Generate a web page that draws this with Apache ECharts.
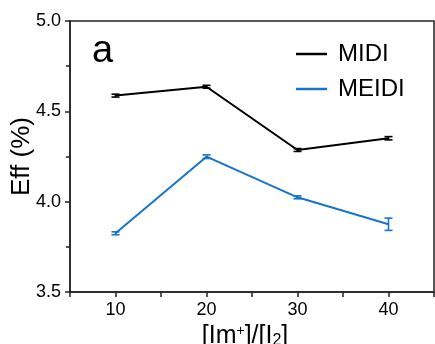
<!DOCTYPE html>
<html><head><meta charset="utf-8">
<script src="https://cdn.jsdelivr.net/npm/echarts@6/dist/echarts.min.js"></script>
<style>html,body{margin:0;padding:0;background:#fff}#c{width:435px;height:344px}</style>
</head><body><div id="c"></div>
<script>
var ratios = [10, 20, 30, 40];
var midi = [4.587, 4.636, 4.286, 4.351];
var midiErr = [0.008, 0.008, 0.008, 0.009];
var meidi = [3.825, 4.249, 4.024, 3.875];
var meidiErr = [0.008, 0.01, 0.008, 0.034];
var yTicks = [3.5, 4.0, 4.5, 5.0];
var xTicks = [10, 20, 30, 40];

var FONT = 'Liberation Sans, Arial, sans-serif';
var BLACK = '#000000', BLUE = '#1874c8';

function lineData(vals){ return ratios.map(function(x,i){return [x, vals[i]];}); }
function errData(vals, errs){ return ratios.map(function(x,i){return [x, vals[i]-errs[i], vals[i]+errs[i]];}); }
function errRender(color){
  return function(params, api){
    var lo = api.coord([api.value(0), api.value(1)]);
    var hi = api.coord([api.value(0), api.value(2)]);
    var w = 4;
    var st = {stroke: color, lineWidth: 1.6};
    return {type:'group', children:[
      {type:'line', shape:{x1:lo[0],y1:lo[1],x2:hi[0],y2:hi[1]}, style:st},
      {type:'line', shape:{x1:lo[0]-w,y1:lo[1],x2:lo[0]+w,y2:lo[1]}, style:st},
      {type:'line', shape:{x1:hi[0]-w,y1:hi[1],x2:hi[0]+w,y2:hi[1]}, style:st}
    ]};
  };
}

var chart = echarts.init(document.getElementById('c'), null, {renderer:'canvas'});
chart.setOption({
  animation:false,
  backgroundColor:'#fff',
  textStyle:{fontFamily:FONT},
  grid:{left:70, right:1, top:21, bottom:52, containLabel:false, outerBoundsMode:'none',
        show:true, borderColor:'#222', borderWidth:1.5, backgroundColor:'transparent'},
  legend:{
    orient:'vertical', left:291, top:37, itemWidth:31, itemHeight:2.5, itemGap:11,
    data:[{name:'MIDI', icon:'rect'}, {name:'MEIDI', icon:'rect'}],
    textStyle:{fontFamily:FONT, fontSize:24, color:'#000', lineHeight:24, padding:[0,0,0,6]}
  },
  xAxis:{
    type:'value', min:5, max:45, interval:5,
    name:'[Im{sup|+}]/[I{sub|2}]', nameLocation:'middle', nameGap:32, nameMoveOverlap:false,
    nameTextStyle:{fontFamily:FONT, fontSize:25, color:'#000', padding:[0,14,0,0],
      rich:{sup:{fontSize:14, verticalAlign:'top', fontFamily:FONT, color:'#000', lineHeight:25, padding:[0,0,8,0]},
            sub:{fontSize:16, verticalAlign:'bottom', fontFamily:FONT, color:'#000', padding:[6,0,0,0]}}},
    axisLine:{show:true, lineStyle:{color:'#222', width:1.5}},
    axisTick:{show:true, inside:false, length:5, lineStyle:{color:'#222', width:1.5}},
    axisLabel:{fontFamily:FONT, fontSize:18, color:'#000', margin:9,
      formatter:function(v){ return xTicks.indexOf(v) >= 0 ? String(v) : ''; }},
    splitLine:{show:false}
  },
  yAxis:{
    type:'value', min:3.5, max:5.0, interval:0.5,
    name:'Eff (%)', nameLocation:'middle', nameGap:35, nameMoveOverlap:false,
    nameTextStyle:{fontFamily:FONT, fontSize:26, color:'#000'},
    axisLine:{show:true, lineStyle:{color:'#222', width:1.5}},
    axisTick:{show:true, inside:false, length:5, lineStyle:{color:'#222', width:1.5}},
    minorTick:{show:true, splitNumber:2, length:4, lineStyle:{color:'#222', width:1.5}},
    axisLabel:{fontFamily:FONT, fontSize:18, color:'#000', margin:9,
      formatter:function(v){ return v.toFixed(1); }},
    splitLine:{show:false}
  },
  graphic:[{type:'text', left:92, top:33, style:{text:'a', font:'38px ' + FONT, fill:'#000'}}],
  series:[
    {name:'MIDI', type:'line', data:lineData(midi), symbol:'none', lineStyle:{color:BLACK, width:2}, itemStyle:{color:BLACK}, z:3},
    {name:'MEIDI', type:'line', data:lineData(meidi), symbol:'none', lineStyle:{color:BLUE, width:2}, itemStyle:{color:BLUE}, z:3},
    {name:'MIDI', type:'custom', data:errData(midi, midiErr), renderItem:errRender(BLACK), encode:{x:0, y:[1,2]}, z:4},
    {name:'MEIDI', type:'custom', data:errData(meidi, meidiErr), renderItem:errRender(BLUE), encode:{x:0, y:[1,2]}, z:4}
  ]
});
</script></body></html>
